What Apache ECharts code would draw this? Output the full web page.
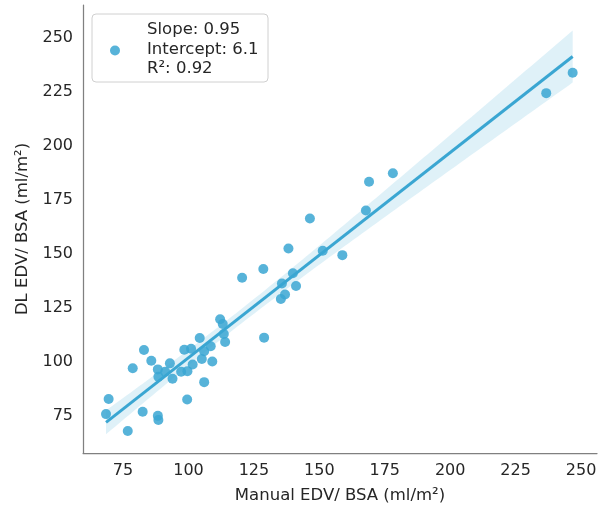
<!DOCTYPE html>
<html>
<head>
<meta charset="utf-8">
<script src="https://cdn.jsdelivr.net/npm/echarts@6/dist/echarts.min.js"></script>
<style>html,body{margin:0;padding:0;background:#fff;}#c{width:614px;height:512px;}</style>
</head>
<body>
<div id="c"></div>
<script>
const manualEDV = [68.5,69.5,76.8,78.7,82.5,83.0,85.8,88.3,88.5,88.3,88.5,91.1,92.9,93.9,97.2,99.6,98.4,101.0,99.5,101.6,104.3,105.1,106.0,106.0,108.5,109.1,112.1,113.1,113.5,114.0,120.5,128.6,128.9,135.3,135.7,136.9,138.2,139.9,141.1,146.4,151.3,158.8,167.8,169.0,178.1,236.7,246.8];
const dlEDV = [75.9,82.9,68.1,97.1,77.0,105.6,100.6,75.1,73.2,96.6,93.2,95.5,99.4,92.3,95.5,95.8,105.7,106.2,82.7,98.9,111.1,101.4,90.7,105.0,107.3,100.3,119.8,117.6,113.0,109.3,139.0,143.1,111.3,129.2,136.4,131.3,152.6,141.1,135.2,166.5,151.5,149.5,170.2,183.5,187.4,224.5,233.9];
const xTicks = [75,100,125,150,175,200,225,250];
const yTicks = [75,100,125,150,175,200,225,250];
const statLines = ['Slope: 0.95','Intercept: 6.1','R\u00b2: 0.92'];

// least squares fit from data
const n = manualEDV.length;
const xm = manualEDV.reduce((a,b)=>a+b,0)/n;
const ym = dlEDV.reduce((a,b)=>a+b,0)/n;
let sxx=0, sxy=0;
for (let i=0;i<n;i++){ sxx+=(manualEDV[i]-xm)**2; sxy+=(manualEDV[i]-xm)*(dlEDV[i]-ym); }
const slope = sxy/sxx, icpt = ym - slope*xm;
let sse=0; for (let i=0;i<n;i++){ sse+=(dlEDV[i]-icpt-slope*manualEDV[i])**2; }
const s = Math.sqrt(sse/(n-2)), tval = 2.2;
const xmin = Math.min(...manualEDV), xmax = Math.max(...manualEDV);
const upperBand=[], lowerBand=[];
const steps=100;
for (let k=0;k<=steps;k++){
  const x = xmin + (xmax-xmin)*k/steps;
  const yh = icpt + slope*x;
  const se = s*Math.sqrt(1/n + (x-xm)**2/sxx)*tval;
  upperBand.push([x, yh+se]); lowerBand.push([x, yh-se]);
}
const bandPoly = upperBand.concat(lowerBand.slice().reverse());
const pts = manualEDV.map((v,i)=>[v, dlEDV[i]]);
const FONT = 'DejaVu Sans';
const col = '#3aa6d2';

const chart = echarts.init(document.getElementById('c'), null, {renderer:'canvas'});
chart.setOption({
  animation:false,
  backgroundColor:'#fff',
  grid:{left:83, right:17, top:5, bottom:59, containLabel:false},
  xAxis:{
    type:'value', min:59.7, max:256.1,
    name:'Manual EDV/ BSA (ml/m\u00b2)', nameLocation:'middle', nameGap:34,
    nameTextStyle:{fontFamily:FONT, fontSize:16.5, color:'#262626'},
    axisLine:{show:true, lineStyle:{color:'#808080', width:1.25}},
    axisTick:{show:false},
    splitLine:{show:false},
    axisLabel:{customValues:xTicks, fontFamily:FONT, fontSize:16, color:'#262626', margin:10}
  },
  yAxis:{
    type:'value', min:57.9, max:265.3,
    name:'DL EDV/ BSA (ml/m\u00b2)', nameLocation:'middle', nameGap:44,
    nameTextStyle:{fontFamily:FONT, fontSize:16.5, color:'#262626'},
    axisLine:{show:true, lineStyle:{color:'#808080', width:1.25}},
    axisTick:{show:false},
    splitLine:{show:false},
    axisLabel:{customValues:yTicks, fontFamily:FONT, fontSize:16, color:'#262626', margin:10, lineHeight:22, padding:[3,0,0,0]}
  },
  series:[
    {type:'custom', data:bandPoly, silent:true, z:1,
     renderItem:function(params, api){
       if (params.dataIndex !== 0) return;
       const p = bandPoly.map(d=>api.coord(d));
       return {type:'polygon', shape:{points:p}, style:{fill:'rgba(58,166,210,0.16)'}};
     }},
    {type:'line', data:[[xmin, icpt+slope*xmin],[xmax, icpt+slope*xmax]], symbol:'none', lineStyle:{color:col, width:3}, z:3},
    {type:'scatter', data:pts, symbolSize:10, itemStyle:{color:col, opacity:0.85}, z:4}
  ],
  graphic:[
    {type:'rect', shape:{x:92, y:14, width:176, height:68, r:4}, style:{fill:'#fff', stroke:'#d0d0d0', lineWidth:1}, z:10},
    {type:'circle', shape:{cx:115, cy:50.5, r:5}, style:{fill:col, opacity:0.85}, z:11},
    {type:'text', left:147, top:20, style:{text:statLines.join('\n'), font:'16.5px "DejaVu Sans"', lineHeight:19.5, fill:'#262626'}, z:11}
  ]
});
</script>
</body>
</html>
